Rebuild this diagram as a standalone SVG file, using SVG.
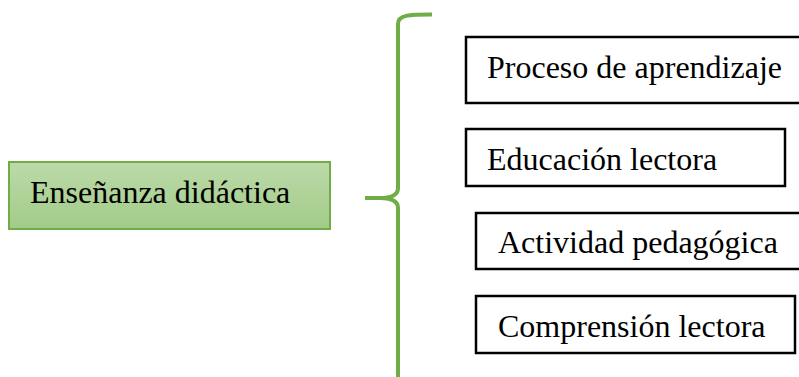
<svg xmlns="http://www.w3.org/2000/svg" width="799" height="377" viewBox="0 0 799 377">
<style>
.t{font-family:"Liberation Serif","Times New Roman",serif;font-size:32px;fill:#000}
.box{fill:#fff;stroke:#000;stroke-width:2.5}
.brace{fill:none;stroke:#70AD47;stroke-width:4;stroke-linecap:butt}
</style>
<defs>
<linearGradient id="g" x1="0" y1="0" x2="0" y2="1">
<stop offset="0" stop-color="#BCDAA9"/>
<stop offset="1" stop-color="#A2CB88"/>
</linearGradient>
</defs>
<rect width="799" height="377" fill="#fff"/>
<g id="n-ensenanza">
<rect x="9" y="162" width="321" height="67" fill="url(#g)" stroke="#70AD47" stroke-width="2"/>
<text class="t" x="30" y="203">Enseñanza didáctica</text>
</g>
<g id="connectors">
<path class="brace" d="M432,14.5 C408,14.5 398,15 398,24 L398,188 C398,196 390,198 380,198 L365,198 M380,198 C390,198 398,200 398,208 L398,377"/>
</g>
<g id="n-proceso">
<rect class="box" x="466" y="37" width="340" height="66"/>
<text class="t" x="487" y="78">Proceso de aprendizaje</text>
</g>
<g id="n-educacion">
<rect class="box" x="466" y="129" width="319" height="57"/>
<text class="t" x="487" y="170">Educación lectora</text>
</g>
<g id="n-actividad">
<rect class="box" x="476" y="213" width="330" height="56"/>
<text class="t" x="498" y="253">Actividad pedagógica</text>
</g>
<g id="n-comprension">
<rect class="box" x="476" y="296" width="319" height="57"/>
<text class="t" x="498" y="337">Comprensión lectora</text>
</g>
</svg>
